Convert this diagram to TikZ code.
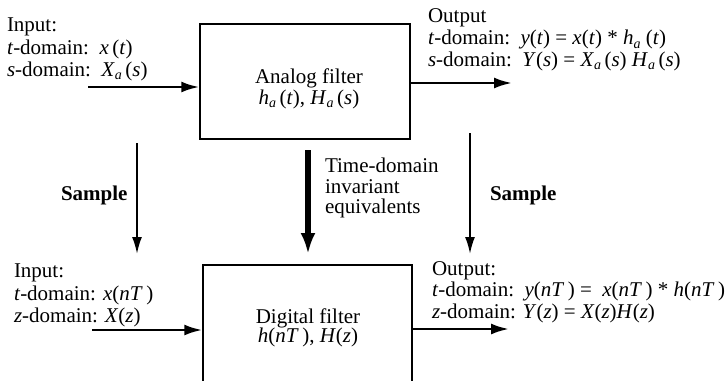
\documentclass[tikz,border=0pt]{standalone}
\usepackage{fontspec}
\setmainfont{Liberation Serif}
\usetikzlibrary{arrows.meta}
\newcommand{\msub}[1]{\raisebox{-0.38ex}{\fontsize{14}{14}\selectfont\itshape #1}}
\newcommand{\vv}[1]{\textit{#1}}
\begin{document}
\begin{tikzpicture}[x=1pt,y=-1pt,
  font=\fontsize{21}{21}\selectfont,
  txt/.style={anchor=base west, inner sep=0pt, outer sep=0pt},
  ctxt/.style={anchor=base, inner sep=0pt, outer sep=0pt},
  filterbox/.style={draw, line width=1.5pt, inner sep=0pt},
  ioarrow/.style={line width=2.6pt, -{Latex[length=18pt,width=11pt]}},
  samparrow/.style={line width=2pt, -{Latex[length=17pt,width=10pt]}},
  bigarrow/.style={line width=6pt, -{Latex[length=21pt,width=15pt]}}]
\useasboundingbox (0,0) rectangle (725,380);

% boxes
\node[filterbox, minimum width=210pt, minimum height=115pt] (A) at (305,81.5) {};
\node[filterbox, minimum width=209pt, minimum height=125pt] (D) at (307.5,327.5) {};

% box labels
\node[ctxt] (A1) at (309,83) {Analog filter};
\node[ctxt] (A2) at (309,104) {\vv{h}\msub{a}\,(\vv{t}), \vv{H}\msub{a}\,(\vv{s})};
\node[ctxt] (D1) at (308,323) {Digital filter};
\node[ctxt] (D2) at (308,342) {\vv{h}(\vv{nT}\,), \vv{H}(\vv{z})};

% top left
\node[txt] (TL1) at (7,31) {Input:};
\node[txt] (TL2) at (7,54) {\vv{t}-domain:\ \ \vv{x}\,(\vv{t})};
\node[txt] (TL3) at (7,76) {\vv{s}-domain:\ \ \vv{X}\msub{a}\,(\vv{s})};

% top right
\node[txt] (TR1) at (428,23) {Output};
\node[txt] (TR2) at (428,44.5) {\vv{t}-domain:\ \ \vv{y}(\vv{t}) = \vv{x}(\vv{t}) * \vv{h}\msub{a}\ (\vv{t})};
\node[txt] (TR3) at (428,66) {\vv{s}-domain:\ \ \vv{Y}(\vv{s}) = \vv{X}\msub{a}\,(\vv{s}) \vv{H}\msub{a}\,(\vv{s})};

% bottom left
\node[txt] (BL1) at (14,277) {Input:};
\node[txt] (BL2) at (14,300) {\vv{t}-domain: \vv{x}(\vv{nT}\,)};
\node[txt] (BL3) at (14,322) {\vv{z}-domain: \vv{X}(\vv{z})};

% bottom right
\node[txt] (BR1) at (432,275) {Output:};
\node[txt] (BR2) at (432,296.5) {\vv{t}-domain:\ \ \vv{y}(\vv{nT}\,) =\ \ \vv{x}(\vv{nT}\,) * \vv{h}(\vv{nT}\,)};
\node[txt] (BR3) at (432,318) {\vv{z}-domain: \vv{Y}(\vv{z}) = \vv{X}(\vv{z})\vv{H}(\vv{z})};

% middle labels
\node[txt, font=\fontsize{21}{21}\selectfont\bfseries] (SL) at (61,200) {Sample};
\node[txt, font=\fontsize{21}{21}\selectfont\bfseries] (SR) at (490,200) {Sample};
\node[txt] (M1) at (325,172) {Time-domain};
\node[txt] (M2) at (325,193) {invariant};
\node[txt] (M3) at (325,213) {equivalents};

% connector end points
\coordinate (inA) at (88,87);
\coordinate (outA) at (512,83);
\coordinate (inD) at (92,330);
\coordinate (outD) at (509,329);
\coordinate (sL0) at (137,143);
\coordinate (sL1) at (137,254);
\coordinate (m0) at (308,150);
\coordinate (m1) at (308,254);
\coordinate (sR0) at (470,133);
\coordinate (sR1) at (470,254);

% connectors
\draw[ioarrow] (inA) -- (inA -| A.west);
\draw[ioarrow] (A.east |- outA) -- (outA);
\draw[ioarrow] (inD) -- (inD -| D.west);
\draw[ioarrow] (D.east |- outD) -- (outD);
\draw[samparrow] (sL0) -- (sL1);
\draw[bigarrow] (m0) -- (m1);
\draw[samparrow] (sR0) -- (sR1);
\end{tikzpicture}
\end{document}
